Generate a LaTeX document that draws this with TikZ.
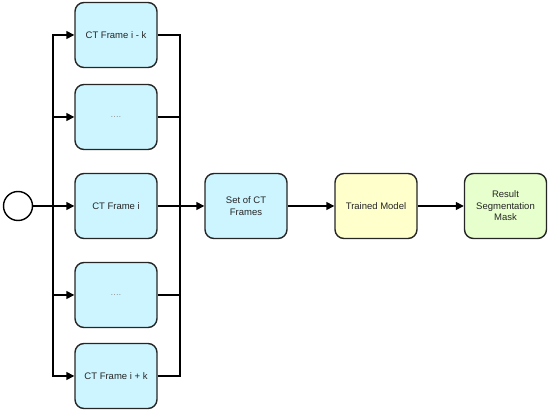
\documentclass[tikz,border=0pt]{standalone}
\usepackage{fontspec}
\setmainfont{Liberation Sans}
\usepackage{xcolor}
\usetikzlibrary{arrows.meta,positioning}
\definecolor{framefill}{HTML}{CCF5FF}
\definecolor{modelfill}{HTML}{FFFFCC}
\definecolor{resultfill}{HTML}{E6FFCC}
\definecolor{txt}{HTML}{262626}
\definecolor{dots}{HTML}{999999}

\begin{document}
\begin{tikzpicture}[
  x=1pt, y=-1pt,
  font=\fontsize{9.5}{11.5}\selectfont,
  box/.style={draw=black!85, line width=1.4pt, rounded corners=9pt,
              align=center, minimum width=82pt, minimum height=65pt,
              text=txt, inner sep=2pt},
  frame/.style={box, fill=framefill},
  arrow/.style={-{Triangle[length=8pt,width=8pt]}, line width=1.5pt},
  wire/.style={line width=1.5pt}
]
  \useasboundingbox (0,0) rectangle (550,414);
  % start event
  \node[draw, circle, line width=1.4pt, minimum size=29pt, inner sep=0pt] (start) at (18,206) {};
  % the frame stack
  \node[frame] (fa) at (116,35) {CT Frame i - k};
  \node[frame] (fb) at (116,117) {\textcolor{dots}{....}};
  \node[frame] (fc) at (116,206) {CT Frame i};
  \node[frame] (fd) at (116,295) {\textcolor{dots}{....}};
  \node[frame] (fe) at (116,376) {CT Frame i + k};
  % pipeline
  \node[frame] (set) at (246,206) {Set of CT\\Frames};
  \node[box, fill=modelfill] (model) at (376,206) {Trained Model};
  \node[box, fill=resultfill] (result) at (505.5,206) {Result\\Segmentation\\Mask};
  \coordinate (lbus) at (53,206);
  \coordinate (rbus) at (180,206);
  \draw[wire] (start.east) -- (lbus);
  \foreach \f in {fa,fb,fc,fd,fe}{
    \draw[arrow] (lbus) |- (\f.west);
    \draw[wire] (\f.east) -| (rbus);
  }
  \draw[arrow] (rbus) -- (set.west);
  \draw[arrow] (set) -- (model);
  \draw[arrow] (model) -- (result);
\end{tikzpicture}
\end{document}
